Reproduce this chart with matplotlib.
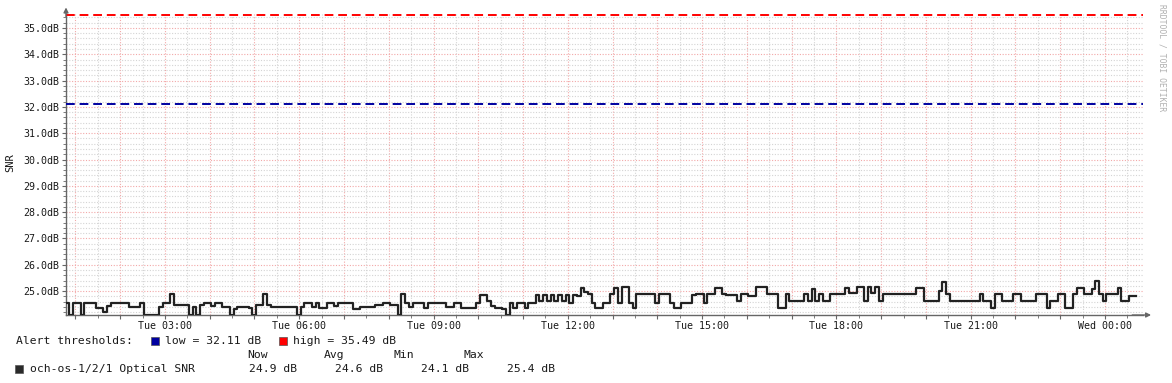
"""
RRDtool-style optical SNR graph, redrawn with matplotlib.
"""

import matplotlib
matplotlib.use("Agg")
import matplotlib.pyplot as plt
import matplotlib.dates as mdates
import matplotlib.patches as mpatches
import numpy as np
import pandas as pd
from matplotlib.ticker import MultipleLocator, FuncFormatter

plt.rcParams["font.family"] = ["DejaVu Sans Mono", "DejaVu Sans"]

# ── data ────────────────────────────────────────────────────────────────
START = pd.Timestamp("2024-01-02 00:47")   # a Tuesday
STEP = pd.Timedelta(minutes=5)

# run-length encoded 5-minute samples (dB, number of samples)
SNR_LEVELS = [
    # 00:47 - 08:47
    24.55, 24.1, 24.55, 24.1, 24.55, 24.35, 24.2, 24.45, 24.55, 24.38,
    24.55, 24.1, 24.4, 24.55, 24.87, 24.47, 24.1, 24.38, 24.1, 24.47,
    24.56, 24.45, 24.56, 24.38, 24.1, 24.3, 24.38, 24.35, 24.1, 24.47,
    24.87, 24.47, 24.4, 24.1, 24.38, 24.56, 24.38, 24.56, 24.36, 24.56,
    24.45, 24.56, 24.3, 24.4, 24.47, 24.53, 24.47, 24.1, 24.87, 24.56,
    24.4, 24.56,
    # 08:47 - 16:47
    24.34, 24.56, 24.4, 24.56, 24.34, 24.56, 24.84, 24.62, 24.45, 24.34,
    24.3, 24.1, 24.56, 24.34, 24.56, 24.34, 24.56, 24.84, 24.62, 24.84,
    24.62, 24.84, 24.62, 24.84, 24.62, 24.84, 24.56, 24.84, 24.81, 25.13,
    24.95, 24.9, 24.56, 24.34, 24.56, 24.9, 25.13, 24.56, 25.15, 24.56,
    24.34, 24.87, 24.56, 24.87, 24.56, 24.34, 24.56, 24.84, 24.87, 24.56,
    24.87, 25.13, 24.87, 24.84, 24.62, 24.87, 24.81, 25.15, 24.87, 24.34,
    # 16:47 - 00:47
    24.37, 24.87, 24.62, 24.87, 24.62, 25.06, 24.62, 24.87, 24.62, 24.87,
    25.13, 24.93, 25.16, 24.62, 25.16, 24.93, 25.16, 24.62, 24.87, 25.13,
    24.62, 25.0, 25.34, 24.87, 24.62, 24.87, 24.62, 24.37, 24.87, 24.62,
    24.87, 24.62, 24.87, 24.37, 24.62, 24.87, 24.37, 24.87, 25.13, 24.87,
    25.06, 25.38, 24.87, 24.62, 24.87, 25.13, 24.62, 24.81,
]
SNR_RUNS = [
    1, 1, 2, 1, 3, 2, 1, 1, 5, 3,
    1, 4, 1, 2, 1, 4, 1, 1, 1, 1,
    2, 1, 2, 2, 1, 1, 3, 1, 1, 2,
    1, 1, 7, 1, 1, 2, 1, 1, 2, 2,
    1, 4, 2, 4, 2, 2, 2, 1, 1, 1,
    1, 3,
    1, 5, 2, 2, 4, 1, 2, 1, 1, 2,
    1, 1, 1, 1, 2, 1, 2, 1, 1, 1,
    1, 1, 1, 1, 1, 1, 1, 1, 1, 1,
    1, 1, 1, 2, 2, 1, 1, 1, 2, 1,
    1, 5, 1, 3, 1, 2, 3, 1, 2, 1,
    2, 2, 1, 3, 1, 2, 2, 3, 3, 1,
    1, 1, 4, 1, 1, 1, 1, 1, 2, 4,
    1, 2, 2, 1, 1, 1, 1, 1, 9, 2,
    4, 1, 1, 1, 8, 1, 2, 1, 2, 3,
    2, 4, 3, 1, 2, 2, 2, 1, 2, 2,
    1, 1, 1, 1, 3, 1, 2, 2,
]

LOW_THRESHOLD = 32.11
HIGH_THRESHOLD = 35.49

SERIES_LABEL = "och-os-1/2/1 Optical SNR"
STAT_NAMES = ["Now", "Avg", "Min", "Max"]
STAT_VALUES = [24.9, 24.6, 24.1, 25.4]

# ── style ───────────────────────────────────────────────────────────────
W, H = 1172, 383
COLOR_LINE = "#222222"
COLOR_LOW = "#0000a0"
COLOR_HIGH = "#ff0000"
COLOR_GRID = "#d4d4d4"
COLOR_MGRID = "#f2a8a8"
COLOR_AXIS = "#666666"
COLOR_TEXT = "#1a1a1a"
STAT_HEAD_X = [247, 324, 394, 464]
STAT_VAL_X = [249, 335, 421, 507]


def px(x, y):
    """pixel position (from top-left) -> figure fraction"""
    return x / W, 1 - y / H


def main():
    snr = np.repeat(SNR_LEVELS, SNR_RUNS)
    times = START + STEP * np.arange(len(snr) + 1)
    values = np.append(snr, snr[-1])

    fig = plt.figure(figsize=(W / 100, H / 100), dpi=100)
    fig.patch.set_facecolor("white")
    ax = fig.add_axes([66 / W, (H - 315) / H, 1077 / W, 301.5 / H])
    ax.set_facecolor("white")

    ax.step(times, values, where="post", color=COLOR_LINE, linewidth=1.6, zorder=4)
    ax.axhline(HIGH_THRESHOLD, color=COLOR_HIGH, linewidth=1.4,
               dashes=(4.5, 2.5), zorder=3)
    ax.axhline(LOW_THRESHOLD, color=COLOR_LOW, linewidth=1.4,
               dashes=(4.5, 2.5), zorder=3)

    ax.set_xlim(START + pd.Timedelta(seconds=20),
                START + pd.Timedelta(hours=24, minutes=4))
    ax.set_ylim(24.09, 35.55)

    # grid
    ax.xaxis.set_major_locator(mdates.HourLocator())
    ax.xaxis.set_minor_locator(mdates.MinuteLocator(byminute=[30]))
    ax.yaxis.set_major_locator(MultipleLocator(1.0))
    ax.yaxis.set_minor_locator(MultipleLocator(0.2))

    def time_label(x, pos):
        d = mdates.num2date(x)
        return d.strftime("%a %H:%M") if d.hour % 3 == 0 else ""

    ax.xaxis.set_major_formatter(FuncFormatter(time_label))
    ax.yaxis.set_major_formatter(FuncFormatter(lambda v, pos: f"{v:.1f}dB"))

    ax.grid(True, which="minor", color=COLOR_GRID, linestyle=(0, (1, 1.5)),
            linewidth=0.8, zorder=0)
    ax.grid(True, which="major", color=COLOR_MGRID, linestyle=(0, (1, 1.5)),
            linewidth=0.8, zorder=1)
    ax.set_axisbelow(True)

    ax.tick_params(axis="both", which="major", length=3, width=0.8,
                   color=COLOR_AXIS, labelsize=7.2, labelcolor=COLOR_TEXT, pad=2)
    ax.tick_params(axis="both", which="minor", length=2, width=0.6,
                   color=COLOR_AXIS)
    ax.tick_params(axis="x", which="major", pad=1)

    for side in ("top", "right"):
        ax.spines[side].set_visible(False)
    for side in ("left", "bottom"):
        ax.spines[side].set_color(COLOR_AXIS)
        ax.spines[side].set_linewidth(1.0)

    # axis arrows
    arrow = dict(arrowstyle="-|>", color=COLOR_AXIS, lw=1.0,
                 mutation_scale=7, shrinkA=0, shrinkB=0)
    ax.annotate("", xy=(1.0075, 0), xytext=(0.99, 0),
                xycoords="axes fraction", arrowprops=arrow, annotation_clip=False)
    ax.annotate("", xy=(0, 1.02), xytext=(0, 0.99),
                xycoords="axes fraction", arrowprops=arrow, annotation_clip=False)

    fig.text(*px(10, 163), "SNR", rotation=90, ha="center", va="center",
             fontsize=7.5, color=COLOR_TEXT)
    fig.text(*px(1162, 4), "RRDTOOL / TOBI OETIKER", rotation=270,
             ha="center", va="top", fontsize=5.8, color="#b0b0b0")

    # ── legend block ────────────────────────────────────────────────────
    fs = 8.2
    fig.text(*px(16, 341), "Alert thresholds:", ha="left", va="center",
             fontsize=fs, color=COLOR_TEXT)

    def square(x, y, color):
        fx, fy = px(x, y + 8)
        fig.patches.append(mpatches.Rectangle(
            (fx, fy), 8 / W, 8 / H, transform=fig.transFigure,
            facecolor=color, edgecolor="#555555", linewidth=0.5))

    square(151, 337, COLOR_LOW)
    fig.text(*px(165, 341), f"low = {LOW_THRESHOLD:.2f} dB", ha="left",
             va="center", fontsize=fs, color=COLOR_TEXT)
    square(279, 337, COLOR_HIGH)
    fig.text(*px(293, 341), f"high = {HIGH_THRESHOLD:.2f} dB", ha="left",
             va="center", fontsize=fs, color=COLOR_TEXT)

    for name, x in zip(STAT_NAMES, STAT_HEAD_X):
        fig.text(*px(x, 355), name, ha="left", va="center",
                 fontsize=fs, color=COLOR_TEXT)

    square(15, 365, "#2a2a2a")
    fig.text(*px(30, 369), SERIES_LABEL, ha="left", va="center",
             fontsize=fs, color=COLOR_TEXT)
    for val, x in zip(STAT_VALUES, STAT_VAL_X):
        fig.text(*px(x, 369), f"{val:.1f} dB", ha="left",
                 va="center", fontsize=fs, color=COLOR_TEXT)

    fig.savefig("out.png", dpi=100, facecolor="white")
    plt.close(fig)


if __name__ == "__main__":
    main()
